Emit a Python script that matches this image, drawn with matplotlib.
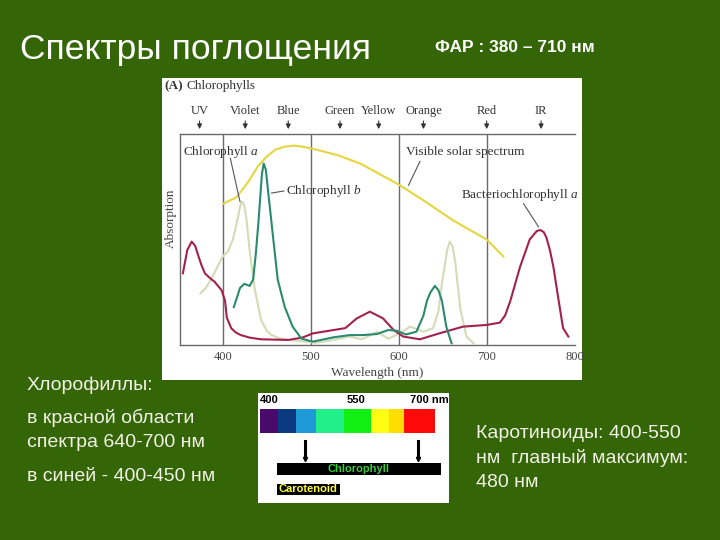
import numpy as np
import matplotlib.pyplot as plt

plt.rcParams['font.family'] = ['Liberation Sans', 'DejaVu Sans']
plt.rcParams['mathtext.fontset'] = 'custom'
plt.rcParams['mathtext.rm'] = 'Liberation Serif'
plt.rcParams['mathtext.it'] = 'Liberation Serif:italic'

# absorption curves: wavelength (nm) and relative absorption (1 = top of frame)
solar_nm = [400, 415, 428, 440, 450, 459, 470, 480, 490, 502, 530, 556, 600, 630, 662, 700, 719]
solar_abs = [0.67, 0.70, 0.77, 0.85, 0.895, 0.925, 0.94, 0.945, 0.94, 0.93, 0.90, 0.86, 0.76, 0.68, 0.59, 0.50, 0.42]

chla_nm = [374, 380, 386, 392, 398, 401.5, 405, 411, 417, 419, 421, 423.5, 426, 430, 436, 443, 449, 455, 464,
           474, 493, 506, 529, 544, 558, 575, 588, 597, 613, 628, 639, 645, 649, 655, 658, 661, 664, 670, 677, 685]
chla_abs = [0.245, 0.27, 0.31, 0.36, 0.41, 0.43, 0.44, 0.50, 0.61, 0.655, 0.68, 0.668, 0.61, 0.45, 0.26, 0.12,
            0.07, 0.047, 0.032, 0.024, 0.016, 0.011, 0.027, 0.04, 0.027, 0.063, 0.03, 0.047, 0.087, 0.063, 0.08,
            0.16, 0.29, 0.45, 0.49, 0.47, 0.40, 0.17, 0.04, 0.008]

chlb_nm = [412, 416, 419, 424, 430, 434, 437, 440, 444, 446, 448.5, 451, 457, 462, 470, 479, 489, 502,
           525, 544, 559, 575, 588, 597, 608, 620, 628, 632, 636, 641, 645, 649, 654, 660]
chlb_abs = [0.18, 0.23, 0.27, 0.29, 0.28, 0.31, 0.43, 0.58, 0.81, 0.86, 0.83, 0.73, 0.50, 0.31, 0.18, 0.087,
            0.03, 0.016, 0.036, 0.047, 0.047, 0.052, 0.071, 0.068, 0.05, 0.063, 0.14, 0.21, 0.25, 0.28, 0.26,
            0.21, 0.087, 0.008]

bchl_nm = [354, 359, 364, 368, 371, 375, 379, 384, 390, 398, 402, 404, 409, 414, 420, 430, 443, 474, 490, 502,
           539, 552, 567, 582, 594, 605, 624, 646, 673, 700, 715, 721, 727, 738, 749, 757, 761, 765, 768, 772,
           776, 782, 787, 793]
bchl_abs = [0.34, 0.45, 0.49, 0.47, 0.43, 0.38, 0.34, 0.32, 0.30, 0.26, 0.21, 0.13, 0.08, 0.06, 0.047, 0.035,
            0.027, 0.024, 0.035, 0.055, 0.08, 0.126, 0.158, 0.126, 0.071, 0.04, 0.027, 0.055, 0.087, 0.095, 0.106,
            0.14, 0.21, 0.37, 0.50, 0.54, 0.545, 0.535, 0.51, 0.45, 0.37, 0.21, 0.08, 0.04]

region_names = ['UV', 'Violet', 'Blue', 'Green', 'Yellow', 'Orange', 'Red', 'IR']
region_nm = [373, 425, 474, 533, 577, 628, 700, 762]
grid_nm = [400, 500, 600, 700]
x_ticks = [400, 500, 600, 700, 800]

# small colour strip below the chart
band_widths = [18, 17.5, 20, 28.5, 27, 18, 15, 31]
band_colors = ['#4a0a6c', '#0b3a80', '#1e9ad6', '#22ee8a', '#11ee11', '#ffff14', '#ffdd00', '#ff0a0a']
strip_labels = ['400', '550', '700 nm']
strip_label_pos = [2, 89, 152]
chl_marks = [47, 160]

BG = '#346506'
TXT = '#f2f2e6'


def px(x, y, w, h):
    return [x / 720, 1 - (y + h) / 540, w / 720, h / 540]


fig = plt.figure(figsize=(7.2, 5.4), dpi=100)
fig.patch.set_facecolor(BG)

# white card behind the chart
card = fig.add_axes(px(162, 78, 420, 302))
card.set_facecolor('white')
card.set_xticks([])
card.set_yticks([])
for s in card.spines.values():
    s.set_visible(False)

ax = fig.add_axes(px(180, 134, 395, 211))
ax.set_facecolor('none')
ax.set_xlim(350.7, 800.6)
ax.set_ylim(0, 1)
ax.spines['right'].set_visible(False)
for s in ['left', 'bottom', 'top']:
    ax.spines[s].set_color('#6a6a6a')
    ax.spines[s].set_linewidth(1)
for w in grid_nm:
    ax.axvline(w, color='#6a6a6a', lw=1)
ax.set_yticks([])
ax.set_xticks(x_ticks)
ax.tick_params(axis='x', length=0, pad=4, labelsize=9, labelcolor='#444')
for lab in ax.get_xticklabels():
    lab.set_family('Liberation Serif')
ax.set_xlabel('Wavelength (nm)', family='Liberation Serif', fontsize=9.5, color='#444', labelpad=3)
ax.set_ylabel('Absorption', family='Liberation Serif', fontsize=9.5, color='#444')
ax.yaxis.set_label_coords(-0.008, 0.6)

lw = 1.5
ax.plot(solar_nm, solar_abs, color='#e5d53e', lw=lw, solid_joinstyle='round')
ax.plot(chla_nm, chla_abs, color='#d3dcb6', lw=lw, solid_joinstyle='round')
ax.plot(bchl_nm, bchl_abs, color='#a2214f', lw=lw, solid_joinstyle='round')
ax.plot(chlb_nm, chlb_abs, color='#2b8a6e', lw=lw, solid_joinstyle='round')

for name, w in zip(region_names, region_nm):
    ax.annotate('', xy=(w, 1.01), xytext=(w, 1.075), annotation_clip=False,
                arrowprops=dict(arrowstyle='-|>', color='#333', lw=0.8, mutation_scale=7))
    ax.text(w, 1.11, name, ha='center', va='center', fontsize=9, color='#333',
            family='Liberation Serif', clip_on=False)

lbl = dict(fontsize=9.5, color='#333', family='Liberation Serif', va='center', clip_on=False)
ax.text(354, 0.915, r'Chlorophyll $\it{a}$', **lbl)
ax.plot([408, 419], [0.885, 0.68], color='#555', lw=0.8)
ax.text(471, 0.73, r'Chlorophyll $\it{b}$', **lbl)
ax.plot([455, 469], [0.72, 0.73], color='#555', lw=0.8)
ax.text(608, 0.915, 'Visible solar spectrum', **lbl)
ax.plot([624, 611], [0.87, 0.757], color='#555', lw=0.8)
ax.text(671, 0.71, r'Bacteriochlorophyll $\it{a}$', **lbl)
ax.plot([742, 759], [0.67, 0.56], color='#555', lw=0.8)

fig.text(164 / 720, 1 - 86 / 540, '(A)', fontsize=9.5, weight='bold', color='#333',
         family='Liberation Serif', va='center')
fig.text(186 / 720, 1 - 86 / 540, 'Chlorophylls', fontsize=9.5, color='#333',
         family='Liberation Serif', va='center')

# colour strip panel
ax2 = fig.add_axes(px(258, 393, 191, 110))
ax2.set_facecolor('white')
ax2.set_xlim(0, 191)
ax2.set_ylim(110, 0)
ax2.set_xticks([])
ax2.set_yticks([])
for s in ax2.spines.values():
    s.set_visible(False)
lefts = 2 + np.concatenate([[0], np.cumsum(band_widths)[:-1]])
ax2.barh(28, band_widths, left=lefts, height=24, color=band_colors)
for t, x in zip(strip_labels, strip_label_pos):
    ax2.text(x, 7, t, fontsize=8, weight='bold', color='black', va='center')
for x in chl_marks:
    ax2.plot([x, x], [48, 64], color='black', lw=2.2)
    ax2.plot([x], [66], marker='v', color='black', ms=3)
ax2.barh([76, 96.5], [164.3, 63.3], left=18.7, height=[12, 11], color='black')
ax2.text(100, 76, 'Chlorophyll', color='#3ccc3c', weight='bold', fontsize=8, ha='center', va='center')
ax2.text(50, 96.5, 'Carotenoid', color='#ffff3a', weight='bold', fontsize=8, ha='center', va='center')

# slide text
fig.text(20 / 720, 1 - 59 / 540, 'Спектры поглощения', fontsize=25.5, color='white', va='baseline')
fig.text(435 / 720, 1 - 52 / 540, 'ФАР : 380 – 710 нм', fontsize=12.5, weight='bold',
         color='white', va='baseline')

left_lines = ['Хлорофиллы:', 'в красной области', 'спектра 640-700 нм', 'в синей - 400-450 нм']
left_base = [390, 423, 447, 481]
for t, y in zip(left_lines, left_base):
    fig.text(27 / 720, 1 - y / 540, t, fontsize=14, color=TXT, va='baseline')

right_lines = ['Каротиноиды: 400-550', 'нм  главный максимум:', '480 нм']
right_base = [438, 463, 487]
for t, y in zip(right_lines, right_base):
    fig.text(476 / 720, 1 - y / 540, t, fontsize=14, color=TXT, va='baseline')

fig.savefig('out.png', dpi=100, facecolor=BG)
